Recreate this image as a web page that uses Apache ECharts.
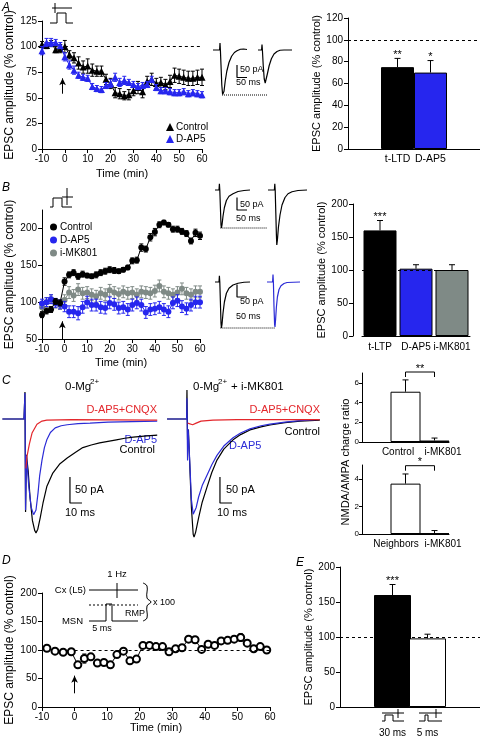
<!DOCTYPE html>
<html><head><meta charset="utf-8">
<script src="https://cdn.jsdelivr.net/npm/echarts/dist/echarts.min.js"></script>
<style>html,body{margin:0;padding:0;background:#fff}#c{width:480px;height:739px}</style>
</head><body><div id="c"></div>
<script>
// ---------------- DATA ----------------
// Panel A (t-LTD time course)
const timeA = [-10,-8,-6,-4,-2,0,2,4,6,8,10,12,14,16,18,20,22,24,26,28,30,32,34,36,38,40,42,44,46,48,50,52,54,56,58,60];
const ctrlA = [102,101,103,97,98,100,92,89,84,80,81,77,76,76,68,64,55,54,52,53,57,60,56,66,68,64,65,63,66,72,71,70,69,69,70,70];
const ctrlAerr = [3,3,3,3,4,6,4,5,6,6,7,6,5,5,5,5,5,5,4,5,5,6,6,5,6,5,5,5,6,7,7,7,7,7,7,8];
const dap5A = [96,104,104,104,101,90,82,77,72,70,69,61,59,58,62,64,70,65,67,65,63,61,62,63,68,60,57,57,56,55,55,56,54,55,54,53];
const dap5Aerr = [4,4,4,3,3,4,4,4,3,3,3,3,3,3,3,4,4,4,4,3,3,3,3,3,3,3,3,3,3,3,3,3,3,3,3,3];
const legendA = ['Control','D-AP5'];
const arrowA = {t:-1, from:54, to:69};
// Panel A bars
const barAcats = ['t-LTD','D-AP5'];
const barAvals = [75,70];
const barAerr = [8,11];
const barAsig = ['**','*'];

// Panel B (t-LTP time course)
const timeB = [-10,-8,-6,-4,-2,0,2,4,6,8,10,12,14,16,18,20,22,24,26,28,30,32,34,36,38,40,42,44,46,48,50,52,54,56,58,60];
const ctrlB = [83,88,90,101,99,128,137,140,135,138,136,135,137,140,142,144,143,142,144,147,156,157,174,172,188,195,205,208,205,199,199,196,193,183,194,190];
const ctrlBerr = [4,4,4,4,4,5,4,4,4,4,3,3,4,4,4,4,4,3,3,3,4,4,5,4,5,5,4,3,3,4,4,4,4,4,5,5];
const dapB = [98,100,104,99,97,94,87,87,85,93,100,96,96,93,92,99,97,92,93,90,96,99,96,86,90,91,93,90,87,99,102,94,91,96,100,100];
const dapBerr = [6,6,6,6,6,7,8,8,9,8,8,8,8,8,8,8,8,8,8,8,8,8,8,8,8,8,8,8,8,8,8,8,8,8,8,8];
const mkB = [93,100,104,98,96,103,113,109,117,112,113,110,108,112,110,116,113,111,114,112,113,110,114,113,112,115,122,114,112,110,113,118,112,110,114,114];
const mkBerr = [6,6,6,6,6,7,8,8,8,8,8,8,8,8,8,8,8,8,8,8,8,8,8,8,8,8,8,8,8,8,8,8,8,8,8,8];
const legendB = ['Control','D-AP5','i-MK801'];
const arrowB = {t:-1, from:50, to:74};
const yTicksB = [50,100,150,200];
// Panel B bars
const barBcats = ['t-LTP','D-AP5','i-MK801'];
const barBvals = [160,102,100];
const barBerr = [15,6,8];
const barBsig = ['***','',''];

// Panel C bars (NMDA/AMPA charge ratio)
const barC1cats = ['Control','i-MK801'];
const barC1vals = [5.1,0.15];
const barC1err = [1.2,0.25];
const barC2cats = ['Neighbors','i-MK801'];
const barC2vals = [3.65,0.05];
const barC2err = [0.7,0.2];
const bracketC1 = {y:7.1, sig:'**'};
const bracketC2 = {y:4.95, sig:'*'};

// Panel D
const timeD = [-8.5,-6,-3.5,-1,1,3,5,7,9,11,13,15,17,19,21,23,25,27,29,31,33,35,37,39,41,43,45,47,49,51,53,55,57,59];
const valD = [103,98,96,97,74,85,88,77,78,74,92,98,81,84,108,108,106,106,97,102,104,119,118,101,110,108,116,117,119,122,112,102,106,100];
const errD = [3,3,3,3,3,8,3,3,3,3,3,3,3,3,3,3,3,3,3,3,3,4,3,3,3,3,4,4,4,7,3,3,3,3];
const arrowD = {t:0, from:24, to:55};

// Panel E bars
const barEcats = ['30 ms','5 ms'];
const barEvals = [160,98];
const barEerr = [15,6];
const barEsig = ['***',''];

// Example traces [ms, pA]
const trA1 = [[15,0],[48,0],[50,28],[52,0],[55,-60],[59,-140],[63,-178],[66,-180],[70,-165],[76,-125],[84,-85],[95,-50],[108,-25],[122,-10],[135,-3],[145,0],[152,3],[160,1],[168,4],[176,2],[185,2]];
const trA2 = [[240,0],[258,0],[260,22],[262,0],[266,-60],[271,-115],[276,-132],[280,-125],[287,-95],[296,-62],[307,-35],[320,-16],[335,-6],[350,-1],[370,0],[410,0]];
const trB1a = [[25,0],[45,0],[47,25],[49,0],[52,-70],[55,-140],[57,-152],[60,-140],[65,-105],[72,-70],[82,-42],[95,-25],[115,-15],[140,-6],[170,-2],[200,0]];
const trB1b = [[290,0],[322,0],[324,25],[326,0],[329,-90],[332,-180],[334,-220],[337,-200],[342,-150],[350,-100],[360,-60],[375,-30],[390,-15],[410,-7],[440,-2],[485,0]];
const trB2a = [[25,0],[45,0],[47,25],[49,0],[52,-80],[55,-165],[57,-184],[60,-170],[65,-125],[72,-80],[82,-45],[95,-25],[115,-12],[140,-5],[170,-1],[200,0]];
const trB2b = [[285,0],[313,0],[315,30],[317,0],[320,-100],[323,-170],[325,-180],[328,-150],[332,-100],[337,-60],[345,-30],[355,-15],[370,-6],[385,-2],[450,0]];
const trC1ctrl = [[2,0],[20,0],[20.8,52],[21.3,-179],[22,-69],[23.5,-100],[25,-150],[27,-195],[29,-215],[30,-219],[31.5,-212],[33.5,-190],[35.8,-162],[39,-130],[44,-104],[50,-86],[56,-75],[63,-64],[69,-55],[76,-50],[83,-46],[90,-43],[97,-40],[104,-37],[111,-35],[120,-33],[131,-31]];
const trC1dap = [[2,0],[20,0],[20.8,50],[21.3,-175],[22,-70],[24,-130],[26,-170],[28,-184],[28.5,-185],[30,-175],[31.7,-142],[33,-110],[35,-79],[37,-55],[39,-40],[42,-26],[46,-17],[51,-13],[56,-11],[65,-9],[75,-8],[90,-6],[110,-5],[131,-4]];
const trC1red = [[21.6,-95],[22.5,-72],[23.5,-60],[24.5,-48],[26.7,-27],[30.8,-10],[35,-4],[39,-2],[60,-1],[131,-2]];
const trC2ctrl = [[1.7,0],[18,0],[18.3,56],[18.8,-40],[19.5,-20],[20.5,-80],[22,-170],[23.5,-222],[24.2,-227],[25.5,-218],[28,-190],[31,-160],[35,-131],[39,-103],[43.3,-79],[49,-58],[56.7,-40],[63,-30],[70.8,-21],[80,-15],[87.5,-11.5],[100,-7],[112.5,-4],[129,-2]];
const trC2dap = [[1.7,0],[18,0],[18.3,40],[18.8,-80],[19.3,-20],[20.5,-75],[22,-155],[23.5,-183],[24.5,-182],[26,-170],[28,-150],[31,-128],[35,-108],[39,-88],[43.3,-70],[49,-52],[56.7,-36],[63,-27],[70.8,-19],[80,-13],[87.5,-10],[100,-6],[112.5,-3],[129,-1]];
const trC2red = [[18.9,-8],[20,-8],[23,-11],[26,-8],[30,-4],[40,-2],[60,-1],[129,-1]];

// ---------------- STYLE / BUILD ----------------
const F = "'Liberation Sans', Arial, Helvetica, sans-serif";
const BLUE = '#2626ee', GRAY = '#7f8a86', RED = '#e3262b', CBLUE = '#2b2bd6';
const grids = [], xAxes = [], yAxes = [], series = [], graphics = [], legends = [];

function merge(a, b) { for (const k in b) { if (b[k] && typeof b[k] === 'object' && !Array.isArray(b[k]) && a[k] && typeof a[k] === 'object') merge(a[k], b[k]); else a[k] = b[k]; } return a; }
function axisBase() { return { axisLine: { show: true, onZero: false, lineStyle: { color: '#000', width: 1 } }, axisTick: { show: true, length: 4, lineStyle: { color: '#000', width: 1 } }, axisLabel: { color: '#000', fontFamily: F, fontSize: 10, margin: 5 }, splitLine: { show: false }, nameTextStyle: { color: '#000', fontFamily: F, fontSize: 11 } }; }
function vAxis(o) { return merge(merge({ type: 'value' }, axisBase()), o || {}); }
function cAxis(cats, o) { return merge(merge({ type: 'category', data: cats }, axisBase()), merge({ axisTick: { show: false }, axisLabel: { fontSize: 10.5, interval: 0 } }, o || {})); }
function hAxis(min, max) { return { type: 'value', show: false, min, max }; }
function addGrid(g, xa, ya) { grids.push(merge({ containLabel: false }, g)); const i = grids.length - 1; xa.gridIndex = i; ya.gridIndex = i; xAxes.push(xa); yAxes.push(ya); return i; }

function errBars(gi, xs, vals, errs, color, cap, onlyUp, z, sig) {
  return {
    type: 'custom', xAxisIndex: gi, yAxisIndex: gi, silent: true, z, clip: false,
    encode: { x: 0, y: [1, 2] },
    data: xs.map((x, i) => [x, onlyUp ? vals[i] : vals[i] - errs[i], vals[i] + errs[i], i]),
    renderItem: (p, api) => {
      const x = api.value(0), lo = api.value(1), hi = api.value(2), i = api.value(3);
      const a = api.coord([x, lo]), b = api.coord([x, hi]);
      const st = { stroke: color, lineWidth: 1 };
      const ch = [{ type: 'line', shape: { x1: a[0], y1: a[1], x2: b[0], y2: b[1] }, style: st },
        { type: 'line', shape: { x1: b[0] - cap, y1: b[1], x2: b[0] + cap, y2: b[1] }, style: st }];
      if (!onlyUp) ch.push({ type: 'line', shape: { x1: a[0] - cap, y1: a[1], x2: a[0] + cap, y2: a[1] }, style: st });
      if (sig && sig[i]) ch.push({ type: 'text', style: { text: sig[i], x: b[0], y: b[1] + 2, textAlign: 'center', textVerticalAlign: 'bottom', fill: '#000', font: '11px ' + F } });
      return { type: 'group', children: ch };
    }
  };
}
function lineS(gi, name, xs, ys, color, sym, size, z, extra) {
  return merge({ type: 'line', name, xAxisIndex: gi, yAxisIndex: gi, z, data: xs.map((x, i) => [x, ys[i]]), symbol: sym, symbolSize: size, showSymbol: true, showAllSymbol: true, lineStyle: { color, width: 1 }, itemStyle: { color }, emphasis: { disabled: true }, silent: true }, extra || {});
}
function barS(gi, vals, colors, width, pad) {
  const data = vals.map((v, i) => ({ value: v, itemStyle: { color: colors[i], borderColor: '#000', borderWidth: 1 } }));
  const padded = [];
  for (let k = 0; k < pad[0]; k++) padded.push('-');
  data.forEach(d => padded.push(d));
  for (let k = 0; k < pad[1]; k++) padded.push('-');
  return { type: 'bar', xAxisIndex: gi, yAxisIndex: gi, data: padded, barWidth: width, z: 2, silent: true, emphasis: { disabled: true } };
}
function traceS(gi, data, color, dash, w) { return { type: 'line', xAxisIndex: gi, yAxisIndex: gi, data, showSymbol: false, symbol: 'none', lineStyle: { color, width: w || 1.2, type: dash || 'solid' }, silent: true, z: 3, emphasis: { disabled: true } }; }
function scaleBar(gi, t0, i0, dt, di) { return traceS(gi, [[t0, i0], [t0, i0 - di], [t0 + dt, i0 - di]], '#000', 'solid', 1.2); }
function arrowLine(a) { return [{ coord: [a.t, a.from], symbol: 'none', lineStyle: { type: 'solid', color: '#000', width: 1 } }, { coord: [a.t, a.to], symbol: 'arrow', symbolSize: [5, 7] }]; }
function dashLine(x0, x1, y) { return [{ coord: [x0, y], symbol: 'none', lineStyle: { type: [3, 3], color: '#000', width: 1 } }, { coord: [x1, y], symbol: 'none' }]; }
function mkLine(items) { return { markLine: { silent: true, symbol: ['none', 'none'], label: { show: false }, animation: false, emphasis: { disabled: true }, data: items } }; }
function hLine100() { return { silent: true, symbol: ['none', 'none'], label: { show: false }, lineStyle: { type: [3, 3], color: '#000', width: 1 }, data: [{ yAxis: 100 }], z: 5 }; }
function txt(x, y, s, o) { o = o || {}; graphics.push({ type: 'text', x, y, rotation: o.rot || 0, silent: true, style: { text: s, fill: o.color || '#000', font: (o.italic ? 'italic ' : '') + (o.size || 11) + 'px ' + F, textAlign: o.align || 'left', textVerticalAlign: o.va || 'middle' } }); }
function pl(points, o) { o = o || {}; graphics.push({ type: 'polyline', silent: true, shape: { points, smooth: o.smooth || 0 }, style: { stroke: '#000', lineWidth: o.w || 1, fill: null, lineDash: o.dash || null } }); }
function bracket(gi, x0, x1, b) {
  return { type: 'custom', xAxisIndex: gi, yAxisIndex: gi, silent: true, clip: false, z: 5, encode: { x: [0, 1], y: 2 }, data: [[x0, x1, b.y]],
    renderItem: (p, api) => {
      const a = api.coord([api.value(0), api.value(2)]), c = api.coord([api.value(1), api.value(2)]);
      return { type: 'group', children: [
        { type: 'polyline', shape: { points: [[a[0], a[1] + 5], [a[0], a[1]], [c[0], c[1]], [c[0], c[1] + 5]] }, style: { stroke: '#000', lineWidth: 1, fill: null } },
        { type: 'text', style: { text: b.sig, x: (a[0] + c[0]) / 2, y: a[1] + 2, textAlign: 'center', textVerticalAlign: 'bottom', fill: '#000', font: '11px ' + F } }] };
    } };
}

// ---- Panel A: time course
const gA = addGrid({ left: 42, top: 21, width: 160, height: 128 },
  vAxis({ min: -10, max: 60, interval: 10, name: 'Time (min)', nameLocation: 'middle', nameGap: 19 }),
  vAxis({ min: 0, max: 125, interval: 25, name: 'EPSC amplitude (% control)', nameLocation: 'middle', nameGap: 26, nameTextStyle: { fontSize: 12 } }));
series.push(errBars(gA, timeA, ctrlA, ctrlAerr, '#000', 2, false, 2));
series.push(lineS(gA, 'A|' + legendA[0], timeA, ctrlA, '#000', 'triangle', 7, 3, mkLine([dashLine(0, 60, 100), arrowLine(arrowA)])));
series.push(errBars(gA, timeA, dap5A, dap5Aerr, BLUE, 2, false, 4));
series.push(lineS(gA, 'A|' + legendA[1], timeA, dap5A, BLUE, 'triangle', 7, 5));
legends.push({ left: 166, top: 122, orient: 'vertical', padding: 0, itemGap: 2, itemWidth: 8, itemHeight: 8, selectedMode: false,
  formatter: n => n.split('|')[1], textStyle: { fontFamily: F, fontSize: 10, color: '#000', padding: [0, 0, 0, -3] },
  data: legendA.map(n => ({ name: 'A|' + n, icon: 'triangle' })) });

// ---- Panel A: bars
const gAb = addGrid({ left: 348, top: 18, width: 133, height: 131 },
  cAxis(['', ...barAcats, ' ']),
  vAxis({ min: 0, max: 120, interval: 20, name: 'EPSC amplitude (% control)', nameLocation: 'middle', nameGap: 17, nameTextStyle: { fontSize: 11 } }));
const ba = barS(gAb, barAvals, ['#000', BLUE], 33, [1, 1]);
ba.markLine = hLine100();
series.push(ba);
series.push(errBars(gAb, barAcats.map((c, i) => i + 1), barAvals, barAerr, '#000', 3, true, 3, barAsig));

// ---- Panel B: time course
const gB = addGrid({ left: 42, top: 210, width: 158, height: 129 },
  vAxis({ min: -10, max: 60, interval: 10, name: 'Time (min)', nameLocation: 'middle', nameGap: 18 }),
  vAxis({ min: 50, max: 225, axisLabel: { customValues: yTicksB }, axisTick: { customValues: yTicksB }, name: 'EPSC amplitude (% control)', nameLocation: 'middle', nameGap: 26, nameTextStyle: { fontSize: 12 } }));
series.push(errBars(gB, timeB, mkB, mkBerr, GRAY, 2, false, 2));
series.push(lineS(gB, 'B|' + legendB[2], timeB, mkB, GRAY, 'circle', 6, 3));
series.push(errBars(gB, timeB, dapB, dapBerr, BLUE, 2, false, 4));
series.push(lineS(gB, 'B|' + legendB[1], timeB, dapB, BLUE, 'circle', 6, 5));
series.push(errBars(gB, timeB, ctrlB, ctrlBerr, '#000', 2, false, 6));
series.push(lineS(gB, 'B|' + legendB[0], timeB, ctrlB, '#000', 'circle', 6, 7, mkLine([arrowLine(arrowB)])));
legends.push({ left: 50, top: 222, orient: 'vertical', padding: 0, itemGap: 3, itemWidth: 7, itemHeight: 7, selectedMode: false,
  formatter: n => n.split('|')[1], textStyle: { fontFamily: F, fontSize: 10, color: '#000', padding: [0, 0, 0, -2] },
  data: legendB.map(n => ({ name: 'B|' + n, icon: 'circle' })) });

// ---- Panel B: bars
const gBb = addGrid({ left: 362, top: 204, width: 108, height: 132 },
  cAxis(barBcats, { axisLabel: { fontSize: 10, margin: 6 } }),
  vAxis({ offset: 9, min: 0, max: 200, interval: 50, name: 'EPSC amplitude (% control)', nameLocation: 'middle', nameGap: 14, nameTextStyle: { fontSize: 11 } }));
const bb = barS(gBb, barBvals, ['#000', BLUE, GRAY], 33, [0, 0]);
bb.markLine = hLine100();
series.push(bb);
series.push(errBars(gBb, barBcats.map((c, i) => i), barBvals, barBerr, '#000', 3, true, 3, barBsig));

// ---- Panel C: bars
const gC1 = addGrid({ left: 362, top: 373, width: 87, height: 69 },
  cAxis(['', ...barC1cats], { axisLabel: { show: false } }),
  vAxis({ min: 0, max: 7, axisLabel: { customValues: [0, 2, 4, 6], fontSize: 8, margin: 3 }, axisTick: { customValues: [0, 2, 4, 6], length: 3 } }));
series.push(barS(gC1, barC1vals, ['#fff', '#fff'], 30, [1, 0]));
series.push(errBars(gC1, barC1cats.map((c, i) => i + 1), barC1vals, barC1err, '#000', 3, true, 3));
series.push(bracket(gC1, 1, 2, bracketC1));
const gC2 = addGrid({ left: 362, top: 465, width: 87, height: 69 },
  cAxis(['', ...barC2cats], { axisLabel: { show: false } }),
  vAxis({ min: 0, max: 5, axisLabel: { customValues: [0, 2, 4], fontSize: 8, margin: 3 }, axisTick: { customValues: [0, 2, 4], length: 3 } }));
series.push(barS(gC2, barC2vals, ['#fff', '#fff'], 30, [1, 0]));
series.push(errBars(gC2, barC2cats.map((c, i) => i + 1), barC2vals, barC2err, '#000', 3, true, 3));
series.push(bracket(gC2, 1, 2, bracketC2));
txt(398, 452, barC1cats[0], { align: 'center', size: 10 });
txt(443, 452, barC1cats[1], { align: 'center', size: 10 });
txt(396, 544, barC2cats[0], { align: 'center', size: 10 });
txt(443, 544, barC2cats[1], { align: 'center', size: 10 });
txt(346, 462, 'NMDA/AMPA charge ratio', { rot: Math.PI / 2, align: 'center', size: 11 });

// ---- Panel D
const gD = addGrid({ left: 42, top: 593, width: 228, height: 114 },
  vAxis({ min: -10, max: 60, interval: 10, name: 'Time (min)', nameLocation: 'middle', nameGap: 10 }),
  vAxis({ min: 0, max: 200, interval: 50, name: 'EPSC amplitude (% control)', nameLocation: 'middle', nameGap: 26, nameTextStyle: { fontSize: 12 } }));
series.push(errBars(gD, timeD, valD, errD, '#000', 2, false, 2));
series.push(lineS(gD, 'D', timeD, valD, '#000', 'emptyCircle', 7, 3, merge({ itemStyle: { borderWidth: 1.1 } }, mkLine([dashLine(0, 60, 100), arrowLine(arrowD)]))));

// ---- Panel E
const gE = addGrid({ left: 340, top: 567, width: 148, height: 140 },
  cAxis(['', ...barEcats, ' '], { axisLabel: { fontSize: 10, margin: 21 } }),
  vAxis({ min: 0, max: 200, interval: 50, name: 'EPSC amplitude (% control)', nameLocation: 'middle', nameGap: 19, nameTextStyle: { fontSize: 11 } }));
const be = barS(gE, barEvals, ['#000', '#fff'], 37, [1, 1]);
be.markLine = hLine100();
series.push(be);
series.push(errBars(gE, barEcats.map((c, i) => i + 1), barEvals, barEerr, '#000', 3, true, 3, barEsig));

// ---- Example traces
const gTA = addGrid({ left: 210, top: 40, width: 85, height: 60 }, hAxis(0, 425), hAxis(-200, 40));
series.push(traceS(gTA, trA1, '#000'), traceS(gTA, trA2, '#000'));
series.push(traceS(gTA, [[60, -180], [285, -180]], '#000', 'dotted', 1));
series.push(scaleBar(gTA, 135, -60, 50, 50));
txt(240, 70, '50 pA', { size: 9 }); txt(236, 83, '50 ms', { size: 9 });

const gTB1 = addGrid({ left: 210, top: 180, width: 100, height: 84 }, hAxis(0, 500), hAxis(-296, 40));
series.push(traceS(gTB1, trB1a, '#000'), traceS(gTB1, trB1b, '#000'));
series.push(traceS(gTB1, [[52, -152], [285, -152]], '#000', 'dotted', 1));
series.push(scaleBar(gTB1, 135, -30, 50, 50));
txt(240, 205, '50 pA', { size: 9 }); txt(236, 219, '50 ms', { size: 9 });

const gTB2 = addGrid({ left: 210, top: 272, width: 100, height: 84 }, hAxis(0, 500), hAxis(-296, 40));
series.push(traceS(gTB2, trB2a, '#000'), traceS(gTB2, trB2b, CBLUE));
series.push(traceS(gTB2, [[52, -184], [325, -184]], '#000', 'dotted', 1));
series.push(scaleBar(gTB2, 135, -10, 50, 50));
txt(240, 302, '50 pA', { size: 9 }); txt(236, 317, '50 ms', { size: 9 });

const gTC1 = addGrid({ left: 0, top: 385, width: 160, height: 155 }, hAxis(0, 133.33), hAxis(-232.7, 65.4));
series.push(traceS(gTC1, trC1ctrl, '#000'), traceS(gTC1, trC1dap, CBLUE), traceS(gTC1, trC1red, RED));
series.push(scaleBar(gTC1, 58.3, -111.5, 10, 50));
const gTC2 = addGrid({ left: 165, top: 385, width: 160, height: 155 }, hAxis(0, 133.33), hAxis(-232.7, 65.4));
series.push(traceS(gTC2, trC2ctrl, '#000'), traceS(gTC2, trC2dap, CBLUE), traceS(gTC2, trC2red, RED));
series.push(scaleBar(gTC2, 45.8, -111.5, 10, 50));

// ---- Texts & icons
txt(2, 8, 'A', { italic: true, size: 12 });
txt(2, 188, 'B', { italic: true, size: 12 });
txt(2, 381, 'C', { italic: true, size: 12 });
txt(2, 561, 'D', { italic: true, size: 12 });
txt(296, 563, 'E', { italic: true, size: 12 });

// stimulation icons
pl([[52, 8], [72, 8]]); pl([[55, 3], [55, 13]]);
pl([[50, 23], [57, 23], [57, 13], [66, 13], [66, 23], [73, 23]]);
pl([[62, 197], [73, 197]]); pl([[67, 188], [67, 205]]);
pl([[50, 207], [53, 207], [53, 198], [62, 198], [62, 207], [72, 207]]);
pl([[382, 713], [404, 713]]); pl([[398, 709], [398, 718]]);
pl([[382, 721], [385, 721], [385, 715], [393, 715], [393, 721], [404, 721]]);
pl([[419, 713], [442, 713]]); pl([[436, 709], [436, 718]]);
pl([[419, 721], [425, 721], [425, 715], [428, 715], [428, 721], [442, 721]]);

// C titles and labels
txt(65, 387, '0-Mg', { size: 11.5 }); txt(90, 382, '2+', { size: 8 });
txt(193, 387, '0-Mg', { size: 11.5 }); txt(218, 382, '2+', { size: 8 }); txt(231, 387, '+ i-MK801', { size: 11.5 });
txt(157, 410, 'D-AP5+CNQX', { align: 'right', color: RED, size: 11 });
txt(157, 440, 'D-AP5', { align: 'right', color: CBLUE, size: 11 });
txt(155, 450, 'Control', { align: 'right', size: 11 });
txt(320, 410, 'D-AP5+CNQX', { align: 'right', color: RED, size: 11 });
txt(320, 432, 'Control', { align: 'right', size: 11 });
txt(229, 446, 'D-AP5', { color: CBLUE, size: 11 });
txt(75, 490, '50 pA', { size: 11 }); txt(65, 513, '10 ms', { size: 11 });
txt(226, 490, '50 pA', { size: 11 }); txt(217, 513, '10 ms', { size: 11 });

// D inset
txt(117, 574, '1 Hz', { align: 'center', size: 9.5 });
txt(86, 590, 'Cx (L5)', { align: 'right', size: 9.5 });
pl([[89, 590], [138, 590]]); pl([[117, 583], [117, 598]]);
pl([[89, 605], [138, 605]], { dash: [2, 2] });
txt(83, 621, 'MSN', { align: 'right', size: 9.5 });
pl([[89, 621], [106, 621], [106, 604], [112, 604], [112, 621], [138, 621]]);
txt(102, 629, '5 ms', { align: 'center', size: 9 });
txt(125, 614, 'RMP', { size: 9 });
pl([[143, 583], [147, 586], [147, 598], [151, 602], [147, 606], [147, 618], [143, 621]], { smooth: 0.4 });
txt(153, 603, 'x 100', { size: 9 });

const chart = echarts.init(document.getElementById('c'), null, { renderer: 'canvas' });
chart.setOption({ animation: false, backgroundColor: '#fff', grid: grids, xAxis: xAxes, yAxis: yAxes, series, legend: legends, graphic: { elements: graphics } });
</script></body></html>
